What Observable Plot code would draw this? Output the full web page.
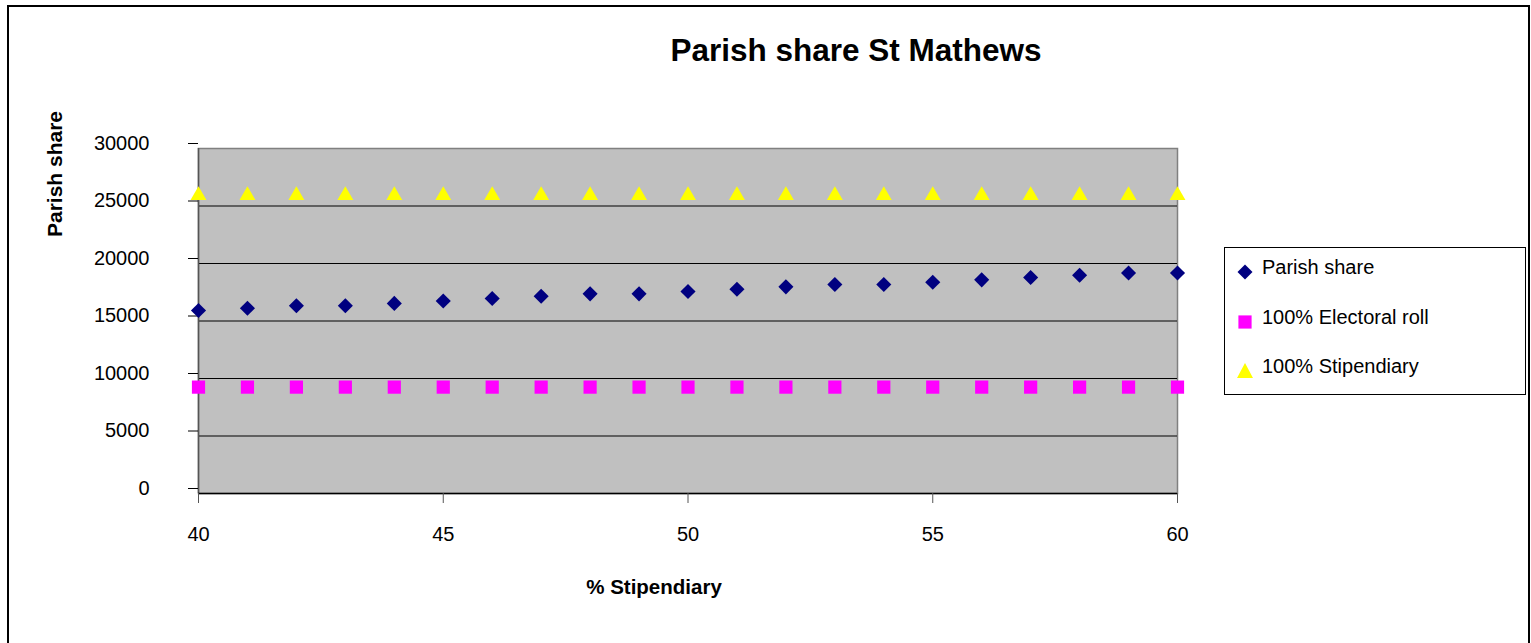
<!DOCTYPE html>
<html>
<head>
<meta charset="utf-8">
<script src="https://cdn.jsdelivr.net/npm/d3@7"></script>
<script src="https://cdn.jsdelivr.net/npm/@observablehq/plot@0.6"></script>
<style>
  html, body { margin: 0; padding: 0; background: #fff; }
  body { font-family: "Liberation Sans", Arial, sans-serif; }
  #wrap { position: relative; width: 1531px; height: 643px; overflow: hidden; }
  #wrap svg { position: absolute; left: 0; top: 0; }
  .border { position: absolute; left: 7px; top: 5px; width: 1523px; height: 700px; border: 2px solid #000; box-sizing: border-box; }
  .title { position: absolute; left: 856px; top: 50px; transform: translate(-50%, -50%); font-weight: bold; font-size: 31.5px; white-space: nowrap; color: #000; }
  .xlabel { position: absolute; left: 654px; top: 587px; transform: translate(-50%, -50%); font-weight: bold; font-size: 20.5px; white-space: nowrap; }
  .ylabel { position: absolute; left: 55px; top: 174px; transform: translate(-50%, -50%) rotate(-90deg); font-weight: bold; font-size: 21px; white-space: nowrap; }
  .legend { position: absolute; left: 1224px; top: 247px; width: 302px; height: 148px; border: 1px solid #000; box-sizing: border-box; background: #fff; }
</style>
</head>
<body>
<div id="wrap">
  <div class="border"></div>
</div>
<script>
// ---- data ----
const stipendiaryPct = [40,41,42,43,44,45,46,47,48,49,50,51,52,53,54,55,56,57,58,59,60];
const parishShare = [15910,16110,16320,16320,16530,16740,16950,17150,17360,17360,17560,17760,17970,18170,18170,18370,18580,18780,18980,19180,19180];
const electoralRoll100 = [9250,9250,9250,9250,9250,9250,9250,9250,9250,9250,9250,9250,9250,9250,9250,9250,9250,9250,9250,9250,9250];
const stipendiary100 = [26100,26100,26100,26100,26100,26100,26100,26100,26100,26100,26100,26100,26100,26100,26100,26100,26100,26100,26100,26100,26100];
const yTicks = [0,5000,10000,15000,20000,25000,30000];
const xTicks = [40,45,50,55,60];
const seriesNames = ["Parish share", "100% Electoral roll", "100% Stipendiary"];
const seriesColors = ["#000080", "#FF00FF", "#FFFF00"];
const titleText = "Parish share St Mathews";
const xTitle = "% Stipendiary";
const yTitle = "Parish share";

const parishData = stipendiaryPct.map((x, i) => ({x, y: parishShare[i]}));
const electoralData = stipendiaryPct.map((x, i) => ({x, y: electoralRoll100[i]}));
const stipData = stipendiaryPct.map((x, i) => ({x, y: stipendiary100[i]}));

const chart = Plot.plot({
  width: 1531,
  height: 643,
  marginLeft: 198,
  marginRight: 354,
  marginTop: 148,
  marginBottom: 150,
  style: { fontFamily: "'Liberation Sans', Arial, sans-serif", fontSize: "20px", background: "transparent", overflow: "visible" },
  x: { domain: [40, 60] },
  y: { domain: [0, 30000] },
  marks: [
    Plot.frame({ fill: "#C0C0C0", stroke: "#808080", strokeWidth: 1.5 }),
    Plot.gridY(yTicks.filter(d => d > 0 && d < 30000), { stroke: "#000", strokeOpacity: 1, strokeWidth: 1.2 }),
    Plot.ruleX([40], { stroke: "#555", strokeWidth: 1.5 }),
    Plot.ruleY([0], { stroke: "#000", strokeWidth: 1.5 }),
    Plot.axisY(yTicks, { tickSize: 10, tickPadding: 39, label: null, dy: -5, tickFormat: d => String(d), fill: "#000", stroke: "#000", fontSize: 20 }),
    Plot.axisX(xTicks, { tickSize: 10, tickPadding: 23, label: null, tickFormat: d => String(d), fill: "#000", stroke: "#555", fontSize: 20 }),
    Plot.dot(stipData, { x: "x", y: "y", symbol: "triangle2", r: 7.6, fill: seriesColors[2], stroke: "none", dy: 2 }),
    Plot.dot(electoralData, { x: "x", y: "y", symbol: "square2", r: 8.4, fill: seriesColors[1], stroke: "none" }),
    Plot.dot(parishData, { x: "x", y: "y", symbol: "diamond2", r: 6.8, fill: seriesColors[0], stroke: "none" })
  ]
});
const wrap = document.getElementById("wrap");
wrap.appendChild(chart);

const t = document.createElement("div"); t.className = "title"; t.textContent = titleText; wrap.appendChild(t);
const xl = document.createElement("div"); xl.className = "xlabel"; xl.textContent = xTitle; wrap.appendChild(xl);
const yl = document.createElement("div"); yl.className = "ylabel"; yl.textContent = yTitle; wrap.appendChild(yl);

// legend (drawn inside a bordered box)
const legend = document.createElement("div"); legend.className = "legend";
wrap.appendChild(legend);
const ls = d3.create("svg").attr("width", 300).attr("height", 146)
  .style("position", "absolute").style("left", "0px").style("top", "0px")
  .style("font-family", "'Liberation Sans', Arial, sans-serif");
const markerPaths = [
  "M0,-7.5L7.5,0L0,7.5L-7.5,0Z",
  "M-6.6,-6.6H6.6V6.6H-6.6Z",
  "M0,-8L8,7L-8,7Z"
];
const markerY = [24, 74, 123];
const textY = [19, 69, 118];
seriesNames.forEach((name, i) => {
  ls.append("path").attr("d", markerPaths[i]).attr("fill", seriesColors[i])
    .attr("transform", `translate(20,${markerY[i]})`);
  ls.append("text").attr("x", 37).attr("y", textY[i]).attr("dy", "0.35em")
    .attr("font-size", 20).attr("fill", "#000").text(name);
});
legend.appendChild(ls.node());
</script>
</body>
</html>
